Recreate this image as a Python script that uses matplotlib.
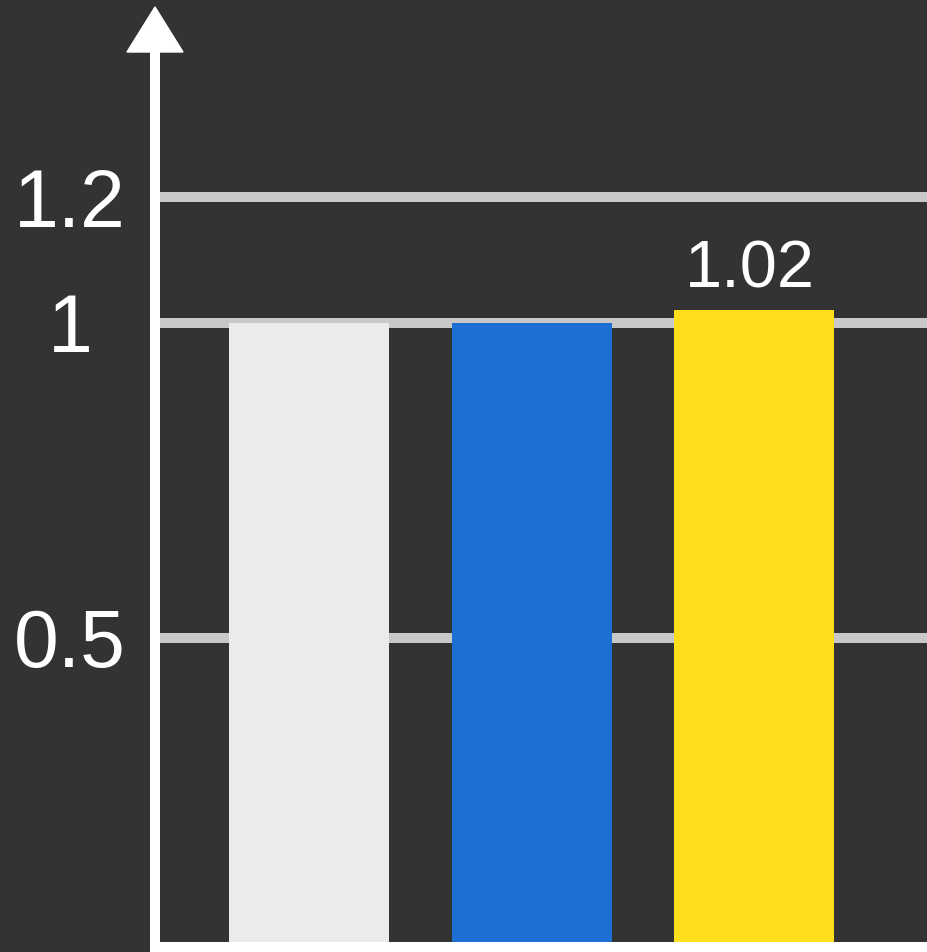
import matplotlib
matplotlib.use("Agg")
import matplotlib.pyplot as plt
from matplotlib.patches import Polygon
from matplotlib.transforms import blended_transform_factory

# bar data
categories = ["A", "B", "C"]
values = [1.0, 1.0, 1.02]
bar_colors = ["#ebebeb", "#1d6fd4", "#ffdf1d"]
yticks = [0.5, 1, 1.2]
ytick_labels = ["0.5", "1", "1.2"]
labeled = {2: "1.02"}

bg = "#333333"
W, H = 927, 952
plt.rcParams["font.family"] = ["Liberation Sans", "DejaVu Sans"]

fig = plt.figure(figsize=(W / 100, H / 100), dpi=100, facecolor=bg)
ax = fig.add_axes([0, 0, 1, 1])
ax.set_facecolor(bg)
for s in ax.spines.values():
    s.set_visible(False)
ax.set_xticks([])
ax.set_yticks([])

# x scale: ~222 px per category, first center at 309 px
px = 222.5
x0 = 309
ax.set_xlim(-x0 / px, (W - x0) / px)
ax.set_ylim(0, H / 629)

axis_x = 155 / W
lw = 7.2  # 10 px

for t in yticks:
    ax.axhline(t, xmin=160 / W, xmax=1, color="#c8c8c8", lw=lw, zorder=1)

xs = list(range(len(categories)))
bars = ax.bar(xs, values, width=160 / px, color=bar_colors, zorder=2)

for i, txt in labeled.items():
    ax.text(xs[i] - 0.02, values[i] + 0.036, txt, ha="center", va="baseline",
            fontsize=48, color="white", zorder=3)

trans = blended_transform_factory(ax.transAxes, ax.transData)
for t, lab in zip(yticks, ytick_labels):
    ax.text(70 / W, t, lab, transform=trans, ha="center", va="center_baseline",
            fontsize=58, color="white")

# bottom axis line
ax.plot([150 / W, 1], [5 / H, 5 / H], transform=ax.transAxes,
        color="white", lw=lw, solid_capstyle="butt", zorder=4)

# vertical axis with arrow head
ax.plot([axis_x, axis_x], [0, 1 - 52 / H], transform=ax.transAxes,
        color="white", lw=lw, solid_capstyle="butt", zorder=4)
head = Polygon([[127 / W, 1 - 52 / H], [183 / W, 1 - 52 / H], [axis_x, 1 - 7 / H]],
               closed=True, transform=ax.transAxes, color="white", zorder=4)
ax.add_patch(head)

fig.savefig("out.png", dpi=100, facecolor=bg)
